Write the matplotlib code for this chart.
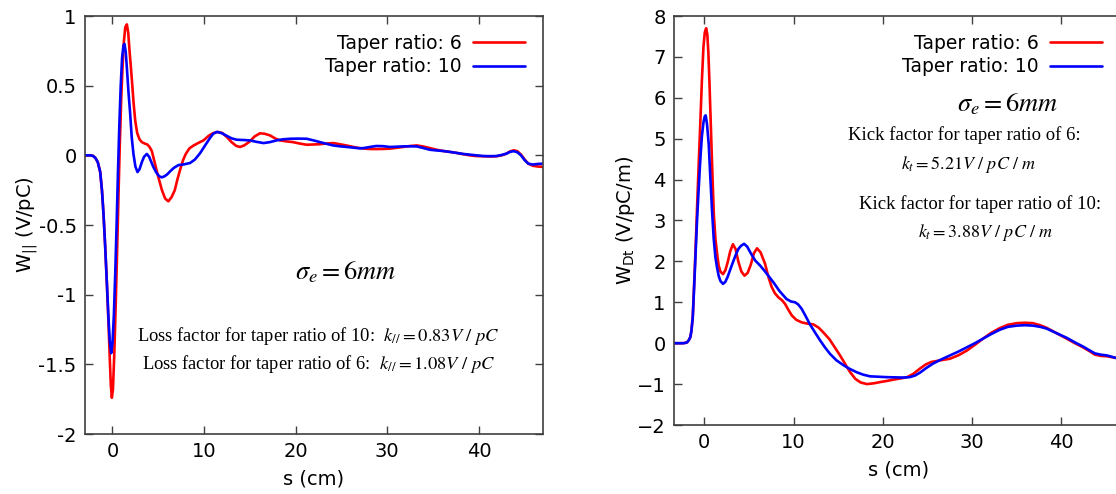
import numpy as np
import matplotlib
matplotlib.use("Agg")
import matplotlib.pyplot as plt

plt.rcParams['font.family'] = ['DejaVu Sans']
plt.rcParams['mathtext.fontset'] = 'stix'

# longitudinal wake, W_|| (V/pC) vs s (cm)
s_long_6 = [-3.0, -2.4, -2.1, -1.85, -1.6, -1.34, -1.15, -0.98, -0.8, -0.61, -0.45, -0.3, -0.18,
            -0.07, 0.05, 0.2, 0.35, 0.5, 0.65, 0.8, 0.95, 1.1, 1.25, 1.4, 1.57, 1.72, 1.85, 2.0,
            2.12, 2.3, 2.48, 2.7, 2.95, 3.2, 3.5, 3.8, 4.05, 4.3, 4.6, 5.0, 5.4, 5.75, 6.1, 6.45,
            6.8, 7.1, 7.4, 7.7, 8.0, 8.4, 8.84, 9.4, 9.93, 10.5, 11.0, 11.5, 12.0, 12.5, 13.0,
            13.5, 13.93, 14.4, 15.0, 15.5, 16.1, 16.6, 17.2, 17.8, 18.3, 19.0, 19.7, 20.4, 21.2,
            22.0, 22.65, 23.4, 24.1, 24.8, 25.6, 26.3, 27.0, 27.9, 28.8, 29.6, 30.3, 31.0, 31.7,
            32.5, 33.2, 33.9, 34.65, 35.4, 36.1, 36.9, 37.6, 38.3, 39.0, 39.7, 40.5, 41.2, 41.9,
            42.5, 43.0, 43.4, 43.8, 44.2, 44.6, 45.0, 45.4, 45.9, 46.4, 47.0]
w_long_6 = [0.0, 0.0, -0.005, -0.02, -0.05, -0.12, -0.25, -0.42, -0.65, -0.92, -1.18, -1.45, -1.65,
            -1.74, -1.68, -1.42, -1.08, -0.7, -0.3, 0.08, 0.4, 0.64, 0.82, 0.92, 0.94, 0.88, 0.76, 0.64,
            0.54, 0.38, 0.25, 0.16, 0.115, 0.095, 0.085, 0.078, 0.06, 0.03, -0.05, -0.155, -0.25, -0.31,
            -0.33, -0.3, -0.25, -0.17, -0.1, -0.035, 0.01, 0.05, 0.07, 0.09, 0.107, 0.14, 0.16, 0.168,
            0.16, 0.13, 0.095, 0.068, 0.06, 0.072, 0.1, 0.135, 0.158, 0.155, 0.143, 0.12, 0.107, 0.1,
            0.095, 0.085, 0.076, 0.078, 0.08, 0.085, 0.088, 0.08, 0.07, 0.06, 0.052, 0.046, 0.045,
            0.046, 0.048, 0.054, 0.06, 0.067, 0.071, 0.064, 0.052, 0.04, 0.031, 0.024, 0.017, 0.008,
            0.0, -0.005, -0.007, -0.008, -0.007, 0.0, 0.012, 0.028, 0.036, 0.03, 0.005, -0.03, -0.06,
            -0.075, -0.08, -0.083]

s_long_10 = [-3.0, -2.4, -2.1, -1.85, -1.6, -1.34, -1.15, -0.98, -0.8, -0.61, -0.45, -0.3, -0.14,
             0.0, 0.15, 0.3, 0.45, 0.6, 0.75, 0.9, 1.05, 1.2, 1.31, 1.45, 1.6, 1.75, 1.93, 2.1,
             2.29, 2.5, 2.73, 2.95, 3.2, 3.45, 3.75, 4.0, 4.25, 4.47, 4.8, 5.1, 5.38, 5.7, 6.0,
             6.29, 6.7, 7.2, 7.8, 8.47, 9.0, 9.56, 10.1, 10.65, 11.0, 11.4, 11.9, 12.47, 13.0,
             13.56, 14.3, 15.0, 15.7, 16.5, 17.2, 17.9, 18.6, 19.4, 20.3, 21.2, 21.9, 22.65, 23.4,
             24.1, 24.8, 25.6, 26.3, 27.0, 27.4, 28.1, 28.8, 29.5, 30.3, 31.0, 31.7, 32.5, 33.2,
             33.9, 34.65, 35.4, 36.1, 36.9, 37.6, 38.3, 39.0, 39.7, 40.5, 41.2, 41.9, 42.5, 43.0,
             43.4, 43.8, 44.2, 44.6, 45.0, 45.4, 45.9, 46.4, 47.0]
w_long_10 = [0.0, 0.0, -0.005, -0.02, -0.05, -0.12, -0.25, -0.42, -0.65, -0.92, -1.15, -1.33, -1.42,
             -1.35, -1.15, -0.85, -0.5, -0.12, 0.22, 0.5, 0.7, 0.79, 0.8, 0.74, 0.6, 0.45, 0.3, 0.13,
             0.01, -0.08, -0.12, -0.1, -0.05, -0.01, 0.01, -0.01, -0.05, -0.085, -0.125, -0.15, -0.158,
             -0.15, -0.135, -0.115, -0.09, -0.07, -0.065, -0.055, -0.03, 0.015, 0.07, 0.125, 0.155,
             0.168, 0.16, 0.14, 0.122, 0.112, 0.11, 0.107, 0.097, 0.088, 0.095, 0.107, 0.115, 0.119,
             0.12, 0.119, 0.108, 0.095, 0.082, 0.071, 0.065, 0.06, 0.055, 0.05, 0.052, 0.06, 0.067,
             0.066, 0.06, 0.062, 0.064, 0.065, 0.064, 0.053, 0.04, 0.035, 0.031, 0.024, 0.017, 0.01,
             0.005, 0.0, -0.005, -0.006, -0.005, 0.003, 0.012, 0.025, 0.03, 0.022, 0.0, -0.035, -0.06,
             -0.066, -0.062, -0.06]

# transverse (dipole) wake, W_Dt (V/pC/m) vs s (cm)
s_tran_6 = [-3.4, -2.4, -2.2, -1.94, -1.75, -1.57, -1.45, -1.3, -1.19, -1.0, -0.82, -0.63, -0.45,
            -0.28, -0.1, 0.05, 0.2, 0.33, 0.45, 0.56, 0.67, 0.86, 1.05, 1.24, 1.42, 1.6, 1.8, 2.09,
            2.35, 2.6, 2.9, 3.2, 3.5, 3.8, 4.15, 4.5, 4.85, 5.2, 5.55, 5.9, 6.3, 6.8, 7.2, 7.55, 7.9,
            8.3, 8.7, 9.04, 9.4, 9.79, 10.3, 10.9, 11.5, 12.2, 12.8, 13.3, 14.0, 14.6, 15.2, 15.75,
            16.3, 16.9, 17.5, 18.2, 19.0, 19.7, 20.5, 21.2, 22.0, 22.7, 23.4, 24.15, 24.8, 25.4,
            26.4, 27.5, 28.5, 29.4, 30.3, 31.2, 32.1, 33.1, 34.0, 35.0, 35.9, 36.8, 37.6, 38.3,
            39.4, 40.6, 41.5, 42.4, 43.1, 43.75, 44.4, 45.1, 46.1, 47.0]
w_tran_6 = [0.0, 0.0, 0.005, 0.02, 0.07, 0.15, 0.3, 0.65, 1.2, 2.2, 3.3, 4.4, 5.4,
            6.4, 7.25, 7.6, 7.7, 7.55, 7.1, 6.45, 5.7, 4.4, 3.2, 2.55, 2.2, 1.9, 1.75, 1.69,
            1.78, 1.97, 2.25, 2.42, 2.3, 2.0, 1.75, 1.65, 1.72, 1.92, 2.2, 2.32, 2.22, 1.94, 1.6, 1.37,
            1.22, 1.12, 1.05, 0.96, 0.82, 0.68, 0.57, 0.51, 0.48, 0.46, 0.38, 0.27, 0.1, -0.1, -0.3,
            -0.5, -0.7, -0.87, -0.96, -1.0, -0.98, -0.95, -0.92, -0.89, -0.86, -0.83, -0.75, -0.62,
            -0.52, -0.46, -0.42, -0.38, -0.29, -0.18, -0.04, 0.11, 0.25, 0.37, 0.45, 0.49, 0.5, 0.49,
            0.44, 0.38, 0.25, 0.11, 0.0, -0.1, -0.19, -0.28, -0.31, -0.32, -0.36, -0.39]

s_tran_10 = [-3.4, -2.4, -2.2, -1.94, -1.75, -1.57, -1.45, -1.3, -1.19, -1.0, -0.82, -0.63, -0.45,
             -0.28, -0.1, 0.05, 0.15, 0.3, 0.49, 0.67, 0.86, 1.05, 1.24, 1.42, 1.6, 1.8, 2.09, 2.35,
             2.6, 2.9, 3.2, 3.5, 3.8, 4.1, 4.45, 4.8, 5.2, 5.7, 6.24, 6.7, 7.2, 7.73, 8.4, 9.2, 9.7,
             10.16, 10.5, 10.9, 11.35, 11.8, 12.4, 12.96, 13.5, 14.07, 14.8, 15.6, 16.3, 17.06, 17.8,
             18.56, 19.5, 20.4, 21.3, 22.3, 23.0, 23.6, 24.15, 24.9, 25.6, 26.5, 27.5, 28.5, 29.4,
             30.3, 31.2, 32.1, 33.1, 34.0, 35.0, 35.9, 36.8, 37.6, 38.3, 39.4, 40.6, 41.5, 42.4,
             43.1, 43.75, 44.4, 45.1, 46.1, 47.0]
w_tran_10 = [0.0, 0.0, 0.005, 0.02, 0.07, 0.15, 0.3, 0.62, 1.15, 2.1, 3.0, 3.8, 4.5,
             5.05, 5.4, 5.55, 5.57, 5.35, 4.86, 4.05, 3.24, 2.55, 2.1, 1.85, 1.65, 1.52, 1.45, 1.5,
             1.62, 1.8, 1.98, 2.15, 2.3, 2.38, 2.43, 2.36, 2.2, 2.02, 1.9, 1.78, 1.64, 1.49, 1.28, 1.08,
             1.02, 1.0, 0.95, 0.84, 0.66, 0.47, 0.26, 0.07, -0.1, -0.26, -0.42, -0.54, -0.63, -0.71,
             -0.77, -0.81, -0.82, -0.83, -0.835, -0.84, -0.83, -0.79, -0.72, -0.6, -0.5, -0.4, -0.3,
             -0.2, -0.1, 0.0, 0.11, 0.22, 0.33, 0.4, 0.43, 0.44, 0.43, 0.4, 0.36, 0.25, 0.13, 0.02,
             -0.08, -0.17, -0.25, -0.28, -0.3, -0.36, -0.39]

labels = ["Taper ratio: 6", "Taper ratio: 10"]
colors = ["#ff0000", "#0000ff"]

fig = plt.figure(figsize=(11.16, 4.94), dpi=100)
ax1 = fig.add_axes([85 / 1116, 60 / 494, 458 / 1116, 418 / 494])
ax2 = fig.add_axes([674 / 1116, 69 / 494, 450 / 1116, 409 / 494])


def style(ax):
    for sp in ax.spines.values():
        sp.set_color("#404040")
        sp.set_linewidth(1.2)
    ax.tick_params(direction="in", length=6, width=1, color="#404040",
                   top=True, right=True, labelsize=14, pad=6)


line_kw = dict(lw=1.9, solid_joinstyle="round", solid_capstyle="round")

ax1.plot(s_long_6, w_long_6, color=colors[0], label=labels[0], **line_kw)
ax1.plot(s_long_10, w_long_10, color=colors[1], label=labels[1], **line_kw)
ax1.set_xlim(-3, 47)
ax1.set_ylim(-2, 1)
ax1.set_xticks([0, 10, 20, 30, 40])
ax1.set_yticks([-2, -1.5, -1, -0.5, 0, 0.5, 1])
ax1.set_yticklabels(["-2", "-1.5", "-1", "-0.5", "0", "0.5", "1"])
style(ax1)
ax1.set_xlabel("s (cm)", fontsize=14, labelpad=6)
ax1.set_ylabel(r"W$_{\mathrm{||}}$ (V/pC)", fontsize=14, math_fontfamily="dejavusans", labelpad=-1)
ax1.legend(loc="upper right", frameon=False, markerfirst=False, fontsize=13.5,
           handlelength=2.8, handletextpad=0.6, labelspacing=0.25, borderaxespad=0.55)
ax1.text(25.4, -0.84, r"$\sigma_e = 6mm$", fontsize=19, ha="center", va="center")
ax1.text(22.5, -1.30, r"Loss factor for taper ratio of 10:  $k_{//} = 0.83V\ /\ pC$",
         fontsize=13.3, ha="center", va="center", family="Liberation Serif")
ax1.text(22.5, -1.50, r"Loss factor for taper ratio of 6:  $k_{//} = 1.08V\ /\ pC$",
         fontsize=13.3, ha="center", va="center", family="Liberation Serif")

ax2.plot(s_tran_6, w_tran_6, color=colors[0], label=labels[0], **line_kw)
ax2.plot(s_tran_10, w_tran_10, color=colors[1], label=labels[1], **line_kw)
ax2.set_xlim(-3.4, 47)
ax2.set_ylim(-2, 8)
ax2.set_xticks([0, 10, 20, 30, 40])
ax2.set_yticks(np.arange(-2, 9, 1))
style(ax2)
ax2.set_xlabel("s (cm)", fontsize=14, labelpad=6)
ax2.set_ylabel(r"W$_{\mathrm{Dt}}$ (V/pC/m)", fontsize=14, math_fontfamily="dejavusans", labelpad=0)
ax2.legend(loc="upper right", frameon=False, markerfirst=False, fontsize=13.5,
           handlelength=2.8, handletextpad=0.6, labelspacing=0.25, borderaxespad=0.55,
           bbox_to_anchor=((1120 - 674) / 450, 1.0))
ax2.text(34.0, 5.85, r"$\sigma_e = 6mm$", fontsize=19, ha="center", va="center")
ax2.text(29.1, 5.09, "Kick factor for taper ratio of 6:", fontsize=13.5,
         ha="center", va="center", family="Liberation Serif")
ax2.text(29.6, 4.38, r"$k_t = 5.21V\ /\ pC\ /\ m$", fontsize=13, ha="center", va="center")
ax2.text(30.9, 3.41, "Kick factor for taper ratio of 10:", fontsize=13.5,
         ha="center", va="center", family="Liberation Serif")
ax2.text(31.5, 2.70, r"$k_t = 3.88V\ /\ pC\ /\ m$", fontsize=13, ha="center", va="center")

fig.savefig("out.png", dpi=100)
